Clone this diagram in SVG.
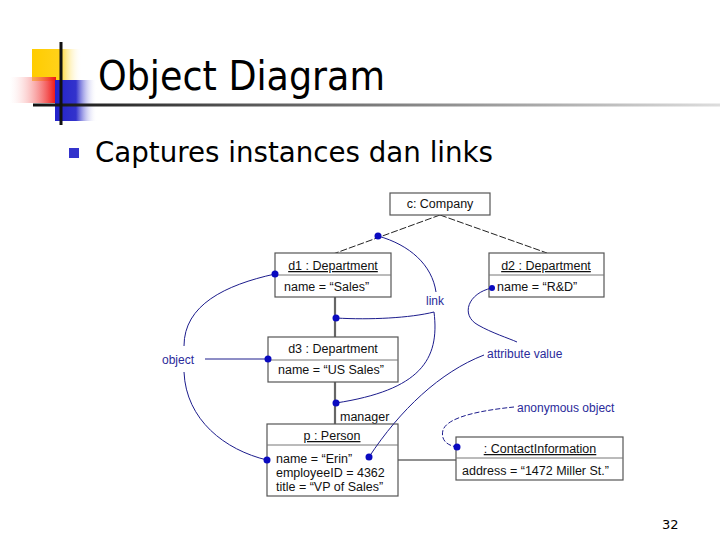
<svg xmlns="http://www.w3.org/2000/svg" width="720" height="540" viewBox="0 0 720 540">
<defs>
<linearGradient id="gy" x1="0" x2="1" y1="0" y2="0"><stop offset="0" stop-color="#ffcc00"/><stop offset="0.55" stop-color="#ffd21a"/><stop offset="1" stop-color="#ffffff" stop-opacity="0"/></linearGradient>
<linearGradient id="gr" x1="0" x2="1" y1="0" y2="0"><stop offset="0" stop-color="#ffffff" stop-opacity="0.2"/><stop offset="1" stop-color="#ee1111"/></linearGradient>
<linearGradient id="gb" x1="0" x2="1" y1="0" y2="0"><stop offset="0" stop-color="#2222cc"/><stop offset="0.5" stop-color="#3333cc"/><stop offset="1" stop-color="#ffffff" stop-opacity="0"/></linearGradient>
<linearGradient id="gl" x1="0" x2="1" y1="0" y2="0"><stop offset="0" stop-color="#111111"/><stop offset="0.3" stop-color="#555555"/><stop offset="1" stop-color="#dddddd"/></linearGradient>
<style>
.box{fill:#fff;stroke:#555;stroke-width:1.2}
.div{stroke:#777;stroke-width:1}
.t{font-family:"Liberation Sans",Arial,sans-serif;font-size:12.5px;fill:#111}
.u{text-decoration:underline}
.ann{font-family:"Liberation Sans",Arial,sans-serif;font-size:12px;fill:#2a2a9a}
.bl{fill:none;stroke:#1c1c8c;stroke-width:1}
.dot{fill:#0a0ac0}
.lk{stroke:#222;stroke-width:1;fill:none}
.gl{stroke:#666;stroke-width:2.2;fill:none}
</style>
</defs>
<rect width="720" height="540" fill="#fff"/>
<g id="logo">
<rect x="32" y="49" width="50" height="32" fill="url(#gy)"/>
<rect x="10" y="77" width="46" height="26" fill="url(#gr)"/>
<rect x="55" y="80" width="42" height="41" fill="url(#gb)"/>
<rect x="33" y="103.5" width="687" height="3" fill="url(#gl)"/>
<rect x="59.5" y="42" width="3" height="83" fill="#111"/>
</g>
<text x="98" y="90" font-family="DejaVu Sans,Verdana,sans-serif" font-size="41" textLength="287" lengthAdjust="spacingAndGlyphs" fill="#000">Object Diagram</text>
<rect x="69" y="148" width="10" height="10" fill="#3333cc"/>
<text x="95" y="162" font-family="DejaVu Sans,Verdana,sans-serif" font-size="28" textLength="398" lengthAdjust="spacingAndGlyphs" fill="#000">Captures instances dan links</text>
<text x="662" y="529" font-family="DejaVu Sans,Verdana,sans-serif" font-size="13" fill="#000">32</text>

<g id="connectors">
<path class="lk" d="M440,215 L333,254" stroke-dasharray="7 2"/>
<path class="lk" d="M440,215 L547,253" stroke-dasharray="7 2"/>
<path class="gl" d="M335,297 L335,337"/>
<path class="gl" d="M335,382 L335,424"/>
<path class="lk" d="M398,460 L456,460"/>
</g>

<g id="c-company">
<rect class="box" x="390" y="193" width="100" height="22"/>
<text class="t" x="440" y="208" text-anchor="middle">c: Company</text>
</g>
<g id="d1">
<rect class="box" x="275" y="253" width="116" height="44"/>
<line class="div" x1="275" y1="275" x2="391" y2="275"/>
<text class="t u" x="333" y="270" text-anchor="middle">d1 : Department</text>
<text class="t" x="284" y="291">name = “Sales”</text>
</g>
<g id="d2">
<rect class="box" x="489" y="253" width="115" height="44"/>
<line class="div" x1="489" y1="275" x2="604" y2="275"/>
<text class="t u" x="546" y="270" text-anchor="middle">d2 : Department</text>
<text class="t" x="497" y="291">name = “R&amp;D”</text>
</g>
<g id="d3">
<rect class="box" x="268" y="337" width="130" height="45"/>
<line class="div" x1="268" y1="360" x2="398" y2="360"/>
<text class="t" x="333" y="353" text-anchor="middle">d3 : Department</text>
<text class="t" x="278" y="374">name = “US Sales”</text>
</g>
<text class="t" x="340" y="421">manager</text>
<g id="p-person">
<rect class="box" x="267" y="424" width="131" height="72"/>
<line class="div" x1="267" y1="445" x2="398" y2="445"/>
<text class="t u" x="332" y="440" text-anchor="middle">p : Person</text>
<text class="t" x="276" y="463">name = “Erin”</text>
<text class="t" x="276" y="477">employeeID = 4362</text>
<text class="t" x="276" y="491">title = “VP of Sales”</text>
</g>
<g id="contact">
<rect class="box" x="456" y="437" width="167" height="43"/>
<line class="div" x1="456" y1="458" x2="623" y2="458"/>
<text class="t u" x="540" y="453" text-anchor="middle">: ContactInformation</text>
<text class="t" x="462" y="475">address = “1472 Miller St.”</text>
</g>

<g id="annotations">
<text class="ann" x="162" y="364">object</text>
<text class="ann" x="426" y="305">link</text>
<text class="ann" x="487" y="358">attribute value</text>
<text class="ann" x="517" y="412">anonymous object</text>
<path class="bl" d="M184,346 C184,305 225,285 275,274"/>
<path class="bl" d="M205,359 L268,359"/>
<path class="bl" d="M184,372 C186,420 225,450 267,460"/>
<path class="bl" d="M378,236 C410,245 432,265 436,292"/>
<path class="bl" d="M434,312 C410,318 370,320 336,318"/>
<path class="bl" d="M434,312 C440,360 420,390 336,403"/>
<path class="bl" d="M492,288 C468,293 460,315 478,325 C492,333 508,338 517,342"/>
<path class="bl" d="M484,355 C440,372 400,410 369,457"/>
<path class="bl" stroke-dasharray="5 2" d="M514,407 C485,410 448,416 443,430 C440,442 450,446 457,447"/>
<circle class="dot" cx="378" cy="236" r="3.5"/>
<circle class="dot" cx="275" cy="274" r="3.5"/>
<circle class="dot" cx="336" cy="318" r="3.5"/>
<circle class="dot" cx="268" cy="359" r="3.5"/>
<circle class="dot" cx="336" cy="403" r="3.5"/>
<circle class="dot" cx="267" cy="460" r="3.5"/>
<circle class="dot" cx="369" cy="457" r="3.5"/>
<circle class="dot" cx="492" cy="288" r="3"/>
<circle class="dot" cx="457" cy="447" r="3.5"/>
</g>
</svg>
